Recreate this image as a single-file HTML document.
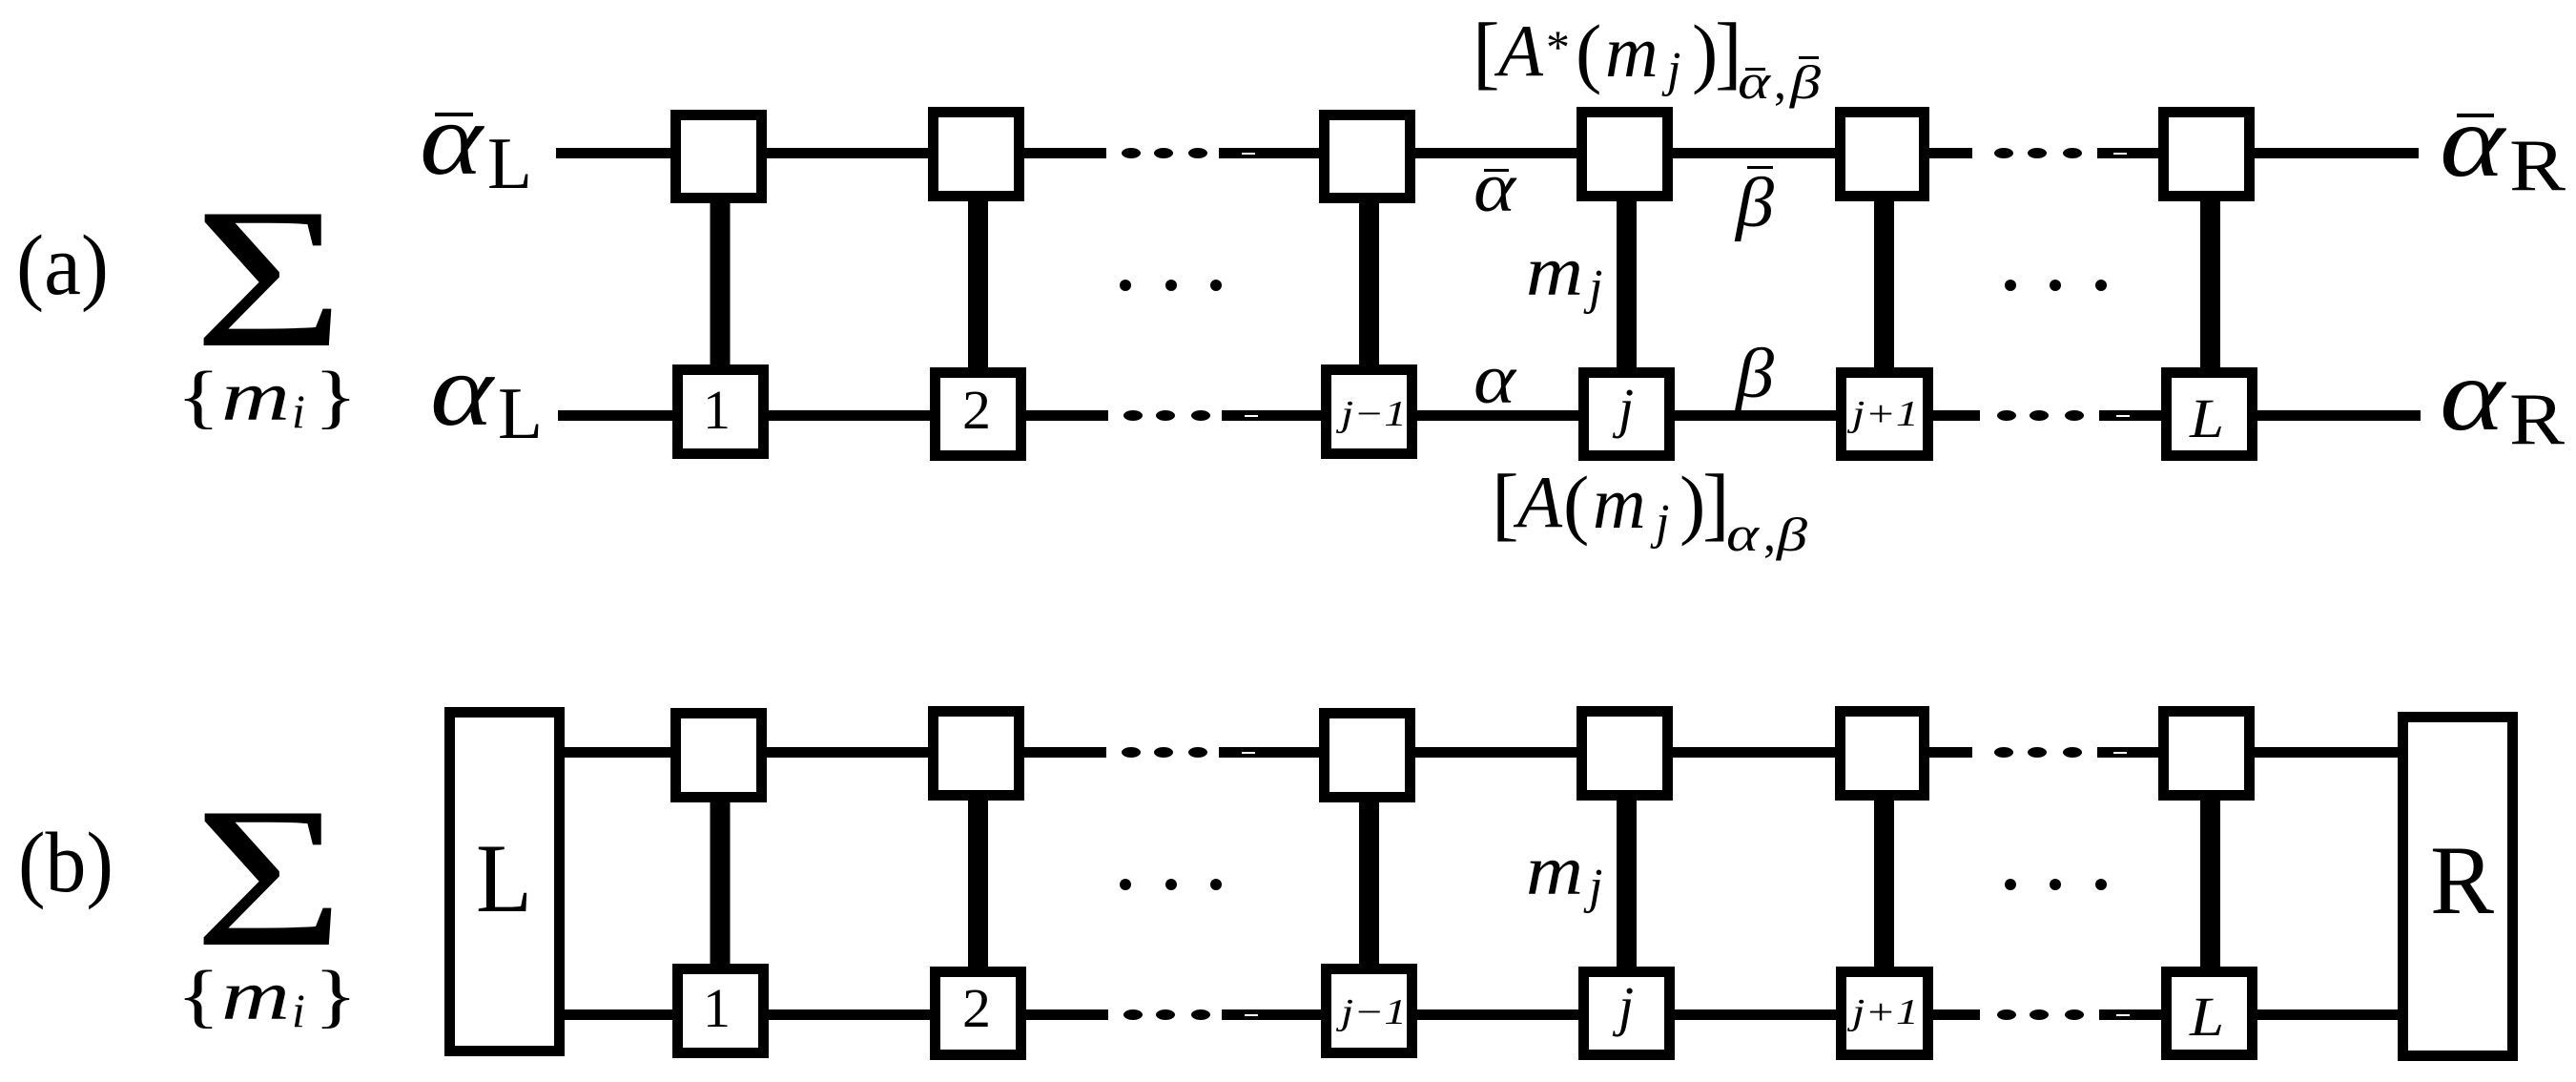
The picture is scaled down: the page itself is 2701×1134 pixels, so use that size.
<!DOCTYPE html>
<html><head><meta charset="utf-8"><style>
html,body{margin:0;padding:0;background:#fff}
svg{display:block}
text{font-family:"Liberation Serif","DejaVu Serif",serif;fill:#000}
.i{font-style:italic}
.w{stroke:#000;stroke-width:11;fill:none}
.v{stroke:#000;stroke-width:21;fill:none}
.b{fill:#fff;stroke:#000;stroke-width:11}
</style></head><body>
<svg width="2701" height="1134" viewBox="0 0 2701 1134" xmlns="http://www.w3.org/2000/svg">
<rect width="2701" height="1134" fill="#fff"/>
<!-- (a) wires -->
<path class="w" d="M583 160.5H1160M1278 160.5H1383M1484 160.5H2068M2199 160.5H2263M2364 160.5H2536"/>
<path class="w" d="M585 435.5H1162M1281 435.5H1385M1486 435.5H2076M2201 435.5H2266M2367 435.5H2538"/>
<g fill="#000">
<ellipse cx="1186" cy="160.5" rx="10" ry="5.5"/><ellipse cx="1220" cy="160.5" rx="10" ry="5.5"/><ellipse cx="1256" cy="160.5" rx="10" ry="5.5"/>
<ellipse cx="2101" cy="160.5" rx="10" ry="5.5"/><ellipse cx="2136" cy="160.5" rx="10" ry="5.5"/><ellipse cx="2173" cy="160.5" rx="10" ry="5.5"/>
<ellipse cx="1188" cy="435.5" rx="10" ry="5.5"/><ellipse cx="1222" cy="435.5" rx="10" ry="5.5"/><ellipse cx="1259" cy="435.5" rx="10" ry="5.5"/>
<ellipse cx="2104" cy="435.5" rx="10" ry="5.5"/><ellipse cx="2138" cy="435.5" rx="10" ry="5.5"/><ellipse cx="2175" cy="435.5" rx="10" ry="5.5"/>
<circle cx="1180" cy="299" r="6"/><circle cx="1228" cy="299" r="6"/><circle cx="1275" cy="299" r="6"/>
<circle cx="2108" cy="299" r="6"/><circle cx="2155" cy="299" r="6"/><circle cx="2203" cy="299" r="6"/>
</g>
<g fill="#fff">
<rect x="1302" y="160" width="14" height="2"/><rect x="2216" y="160" width="14" height="2"/>
<rect x="1305" y="435" width="14" height="2"/><rect x="2219" y="435" width="14" height="2"/>
</g>
<path class="v" d="M755 213V382M1025.5 211V385M1435.5 213V382M1705.5 211V385M1975.5 211V385M2317.5 211V385"/>
<!-- (a) boxes -->
<rect class="b" x="708.5" y="120.5" width="90" height="87"/>
<rect class="b" x="978.5" y="117.5" width="90" height="88"/>
<rect class="b" x="1388.5" y="120.5" width="90" height="87"/>
<rect class="b" x="1658.5" y="117.5" width="90" height="88"/>
<rect class="b" x="1929.5" y="117.5" width="88" height="88"/>
<rect class="b" x="2268.5" y="117.5" width="90" height="88"/>
<rect class="b" x="710.5" y="387.5" width="90" height="88"/>
<rect class="b" x="980.5" y="390.5" width="90" height="87"/>
<rect class="b" x="1390.5" y="387.5" width="90" height="88"/>
<rect class="b" x="1660.5" y="390.5" width="90" height="87"/>
<rect class="b" x="1930.5" y="390.5" width="91" height="87"/>
<rect class="b" x="2271.5" y="390.5" width="90" height="87"/>
<!-- (a) node labels -->
<text x="737" y="449" font-size="58" textLength="29" lengthAdjust="spacingAndGlyphs">1</text>
<text x="1009" y="449" font-size="58" textLength="30" lengthAdjust="spacingAndGlyphs">2</text>
<text x="1406" y="446" font-size="38" class="i" textLength="69" lengthAdjust="spacingAndGlyphs">j−1</text>
<text x="1697" y="447" font-size="58" class="i">j</text>
<text x="1942" y="446" font-size="38" class="i" textLength="70" lengthAdjust="spacingAndGlyphs">j+1</text>
<text x="2296" y="458" font-size="58" class="i" textLength="36" lengthAdjust="spacingAndGlyphs">L</text>
<!-- (a) left -->
<text x="17" y="308" font-size="90" textLength="97" lengthAdjust="spacingAndGlyphs">(a)</text>
<text x="203" y="362" font-size="210" textLength="158" lengthAdjust="spacingAndGlyphs">Σ</text>
<text x="185" y="440" font-size="74" textLength="46" lengthAdjust="spacingAndGlyphs">{</text>
<text x="232" y="440" font-size="74" class="i" textLength="72" lengthAdjust="spacingAndGlyphs">m</text>
<text x="306" y="448" font-size="50" class="i">i</text>
<text x="329" y="440" font-size="74" textLength="46" lengthAdjust="spacingAndGlyphs">}</text>
<text x="440" y="182" font-size="108" class="i" textLength="66" lengthAdjust="spacingAndGlyphs">α</text>
<rect x="456" y="118" width="40" height="4"/>
<text x="511" y="197" font-size="77">L</text>
<text x="451" y="445" font-size="108" class="i" textLength="66" lengthAdjust="spacingAndGlyphs">α</text>
<text x="522" y="459" font-size="77">L</text>
<!-- (a) right -->
<text x="2558" y="184" font-size="108" class="i" textLength="68" lengthAdjust="spacingAndGlyphs">α</text>
<rect x="2576" y="119" width="39" height="4"/>
<text x="2631" y="199" font-size="77" textLength="59" lengthAdjust="spacingAndGlyphs">R</text>
<text x="2558" y="450" font-size="108" class="i" textLength="68" lengthAdjust="spacingAndGlyphs">α</text>
<text x="2631" y="465" font-size="77" textLength="58" lengthAdjust="spacingAndGlyphs">R</text>
<!-- (a) inner labels: upper tensor -->
<text x="1544" y="83" font-size="86">[</text>
<text x="1571" y="79" font-size="77" class="i">A</text>
<text x="1621" y="66" font-size="50">*</text>
<text x="1652" y="82" font-size="82">(</text>
<text x="1683" y="80" font-size="77" class="i">m</text>
<text x="1748" y="90" font-size="52" class="i">j</text>
<text x="1774" y="82" font-size="82">)</text>
<text x="1798" y="83" font-size="86">]</text>
<text x="1822" y="103" font-size="52" class="i" textLength="34" lengthAdjust="spacingAndGlyphs">α</text>
<rect x="1830" y="71" width="21" height="3"/>
<text x="1860" y="103" font-size="52">,</text>
<text x="1877" y="103" font-size="50" class="i" textLength="32" lengthAdjust="spacingAndGlyphs">β</text>
<rect x="1886" y="59" width="21" height="3"/>
<text x="1545" y="221" font-size="74" class="i" textLength="44" lengthAdjust="spacingAndGlyphs">α</text>
<rect x="1556" y="177" width="26" height="3"/>
<text x="1820" y="237" font-size="74" class="i" textLength="40" lengthAdjust="spacingAndGlyphs">β</text>
<rect x="1832" y="174" width="27" height="3"/>
<text x="1600" y="309" font-size="74" class="i" textLength="60" lengthAdjust="spacingAndGlyphs">m</text>
<text x="1666" y="318" font-size="52" class="i">j</text>
<text x="1545" y="422" font-size="74" class="i" textLength="44" lengthAdjust="spacingAndGlyphs">α</text>
<text x="1820" y="416" font-size="74" class="i" textLength="40" lengthAdjust="spacingAndGlyphs">β</text>
<!-- (a) lower tensor -->
<text x="1564" y="556" font-size="86">[</text>
<text x="1591" y="552" font-size="77" class="i">A</text>
<text x="1639" y="555" font-size="82">(</text>
<text x="1670" y="553" font-size="77" class="i">m</text>
<text x="1736" y="564" font-size="52" class="i">j</text>
<text x="1761" y="555" font-size="82">)</text>
<text x="1785" y="556" font-size="86">]</text>
<text x="1810" y="577" font-size="52" class="i" textLength="34" lengthAdjust="spacingAndGlyphs">α</text>
<text x="1849" y="577" font-size="52">,</text>
<text x="1863" y="577" font-size="50" class="i" textLength="32" lengthAdjust="spacingAndGlyphs">β</text>

<!-- (b) wires -->
<path class="w" d="M590 788.5H1160M1278 788.5H1383M1484 788.5H2068M2199 788.5H2263M2364 788.5H2516"/>
<path class="w" d="M590 1063.5H1162M1281 1063.5H1385M1486 1063.5H2076M2201 1063.5H2266M2367 1063.5H2516"/>
<g fill="#000">
<ellipse cx="1186" cy="788.5" rx="10" ry="5.5"/><ellipse cx="1220" cy="788.5" rx="10" ry="5.5"/><ellipse cx="1256" cy="788.5" rx="10" ry="5.5"/>
<ellipse cx="2101" cy="788.5" rx="10" ry="5.5"/><ellipse cx="2136" cy="788.5" rx="10" ry="5.5"/><ellipse cx="2173" cy="788.5" rx="10" ry="5.5"/>
<ellipse cx="1188" cy="1063.5" rx="10" ry="5.5"/><ellipse cx="1222" cy="1063.5" rx="10" ry="5.5"/><ellipse cx="1259" cy="1063.5" rx="10" ry="5.5"/>
<ellipse cx="2104" cy="1063.5" rx="10" ry="5.5"/><ellipse cx="2138" cy="1063.5" rx="10" ry="5.5"/><ellipse cx="2175" cy="1063.5" rx="10" ry="5.5"/>
<circle cx="1180" cy="927" r="6"/><circle cx="1228" cy="927" r="6"/><circle cx="1275" cy="927" r="6"/>
<circle cx="2108" cy="927" r="6"/><circle cx="2155" cy="927" r="6"/><circle cx="2203" cy="927" r="6"/>
</g>
<g fill="#fff">
<rect x="1302" y="788" width="14" height="2"/><rect x="2216" y="788" width="14" height="2"/>
<rect x="1305" y="1063" width="14" height="2"/><rect x="2219" y="1063" width="14" height="2"/>
</g>
<path class="v" d="M755 841V1010M1025.5 839V1013M1435.5 841V1010M1705.5 839V1013M1975.5 839V1013M2317.5 839V1013"/>
<!-- (b) boxes -->
<rect class="b" x="471.5" y="746.5" width="115" height="355"/>
<rect class="b" x="2519.5" y="751.5" width="115" height="355"/>
<rect class="b" x="708.5" y="747.5" width="90" height="88"/>
<rect class="b" x="978.5" y="745.5" width="90" height="88"/>
<rect class="b" x="1388.5" y="747.5" width="90" height="88"/>
<rect class="b" x="1658.5" y="745.5" width="90" height="88"/>
<rect class="b" x="1929.5" y="745.5" width="88" height="88"/>
<rect class="b" x="2268.5" y="745.5" width="90" height="88"/>
<rect class="b" x="710.5" y="1015.5" width="90" height="88"/>
<rect class="b" x="980.5" y="1018.5" width="90" height="87"/>
<rect class="b" x="1390.5" y="1015.5" width="90" height="88"/>
<rect class="b" x="1660.5" y="1018.5" width="90" height="87"/>
<rect class="b" x="1930.5" y="1018.5" width="91" height="87"/>
<rect class="b" x="2271.5" y="1018.5" width="90" height="87"/>
<!-- (b) labels -->
<text x="737" y="1076" font-size="58" textLength="29" lengthAdjust="spacingAndGlyphs">1</text>
<text x="1009" y="1076" font-size="58" textLength="30" lengthAdjust="spacingAndGlyphs">2</text>
<text x="1406" y="1073" font-size="38" class="i" textLength="69" lengthAdjust="spacingAndGlyphs">j−1</text>
<text x="1697" y="1074" font-size="58" class="i">j</text>
<text x="1942" y="1073" font-size="38" class="i" textLength="70" lengthAdjust="spacingAndGlyphs">j+1</text>
<text x="2296" y="1085" font-size="58" class="i" textLength="36" lengthAdjust="spacingAndGlyphs">L</text>
<text x="19" y="934" font-size="90" textLength="100" lengthAdjust="spacingAndGlyphs">(b)</text>
<text x="203" y="990" font-size="210" textLength="158" lengthAdjust="spacingAndGlyphs">Σ</text>
<text x="185" y="1068" font-size="74" textLength="46" lengthAdjust="spacingAndGlyphs">{</text>
<text x="232" y="1068" font-size="74" class="i" textLength="72" lengthAdjust="spacingAndGlyphs">m</text>
<text x="306" y="1076" font-size="50" class="i">i</text>
<text x="329" y="1068" font-size="74" textLength="46" lengthAdjust="spacingAndGlyphs">}</text>
<text x="499" y="955" font-size="103" textLength="59" lengthAdjust="spacingAndGlyphs">L</text>
<text x="2548" y="957" font-size="103" textLength="67" lengthAdjust="spacingAndGlyphs">R</text>
<text x="1600" y="937" font-size="74" class="i" textLength="60" lengthAdjust="spacingAndGlyphs">m</text>
<text x="1666" y="946" font-size="52" class="i">j</text>
</svg>
</body></html>
